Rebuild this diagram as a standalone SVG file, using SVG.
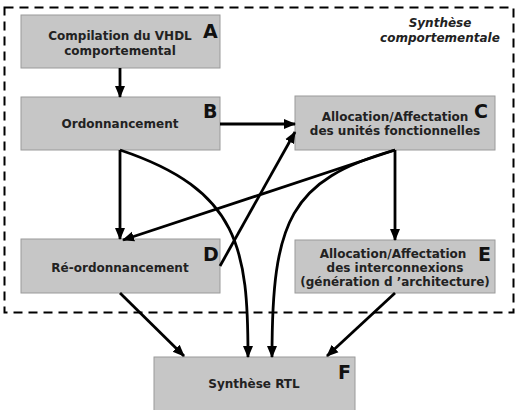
<svg xmlns="http://www.w3.org/2000/svg" width="520" height="410" viewBox="0 0 520 410">
<style>
.box{fill:#c6c6c6;stroke:#9a9a9a;stroke-width:1}
.t{font-family:"DejaVu Sans",Verdana,sans-serif;font-weight:bold;font-size:12px;fill:#222;text-anchor:middle}
.l{font-family:"DejaVu Sans",Verdana,sans-serif;font-weight:bold;font-size:19px;fill:#111}
.i{font-family:"DejaVu Sans",Verdana,sans-serif;font-weight:bold;font-style:italic;font-size:12px;fill:#222;text-anchor:middle}
.e{fill:none;stroke:#000;stroke-width:2.8;marker-end:url(#ah)}
</style>
<defs>
<marker id="ah" markerWidth="12" markerHeight="12" refX="11" refY="5.5" orient="auto" markerUnits="userSpaceOnUse" viewBox="0 0 12 11">
<path d="M0,0.5 L12,5.5 L0,10.5 Z" fill="#000"/>
</marker>
</defs>
<rect x="0" y="0" width="520" height="410" fill="#fff"/>
<rect x="4.5" y="7.5" width="509" height="305" fill="none" stroke="#000" stroke-width="2" stroke-dasharray="9,6"/>
<text class="i" x="440" y="27">Synthèse</text>
<text class="i" x="440" y="42">comportementale</text>
<g id="A">
<rect class="box" x="21" y="15" width="199" height="53"/>
<text class="t" x="120" y="40">Compilation du VHDL</text>
<text class="t" x="120" y="55">comportemental</text>
<text class="l" x="203" y="38">A</text>
</g>
<g id="B">
<rect class="box" x="21" y="97" width="199" height="53"/>
<text class="t" x="120" y="128">Ordonnancement</text>
<text class="l" x="203" y="118">B</text>
</g>
<g id="C">
<rect class="box" x="295" y="96" width="200" height="54"/>
<text class="t" x="395" y="121">Allocation/Affectation</text>
<text class="t" x="395" y="135">des unités fonctionnelles</text>
<text class="l" x="474" y="118">C</text>
</g>
<g id="D">
<rect class="box" x="21" y="239" width="199" height="54"/>
<text class="t" x="120" y="272">Ré-ordonnancement</text>
<text class="l" x="203" y="261">D</text>
</g>
<g id="E">
<rect class="box" x="295" y="240" width="200" height="53"/>
<text class="t" x="393" y="258">Allocation/Affectation</text>
<text class="t" x="395" y="272">des interconnexions</text>
<text class="t" x="395" y="286">(génération d ’architecture)</text>
<text class="l" x="478" y="261">E</text>
</g>
<g id="F">
<rect class="box" x="154" y="357" width="201" height="56"/>
<text class="t" x="254" y="388">Synthèse RTL</text>
<text class="l" x="338" y="379">F</text>
</g>
<g id="connectors">
<path class="e" d="M120,68 L120,97"/>
<path class="e" d="M220,124 L295,124"/>
<path class="e" d="M120,150 L120,239"/>
<path class="e" d="M120,150 C240,190 248,250 248,357"/>
<path class="e" d="M395,150 L123,240"/>
<path class="e" d="M220,266 L295,132"/>
<path class="e" d="M395,150 L395,240"/>
<path class="e" d="M395,150 C290,180 272,220 272,357"/>
<path class="e" d="M120,293 L184,356"/>
<path class="e" d="M395,293 L327,356"/>
</g>
</svg>
